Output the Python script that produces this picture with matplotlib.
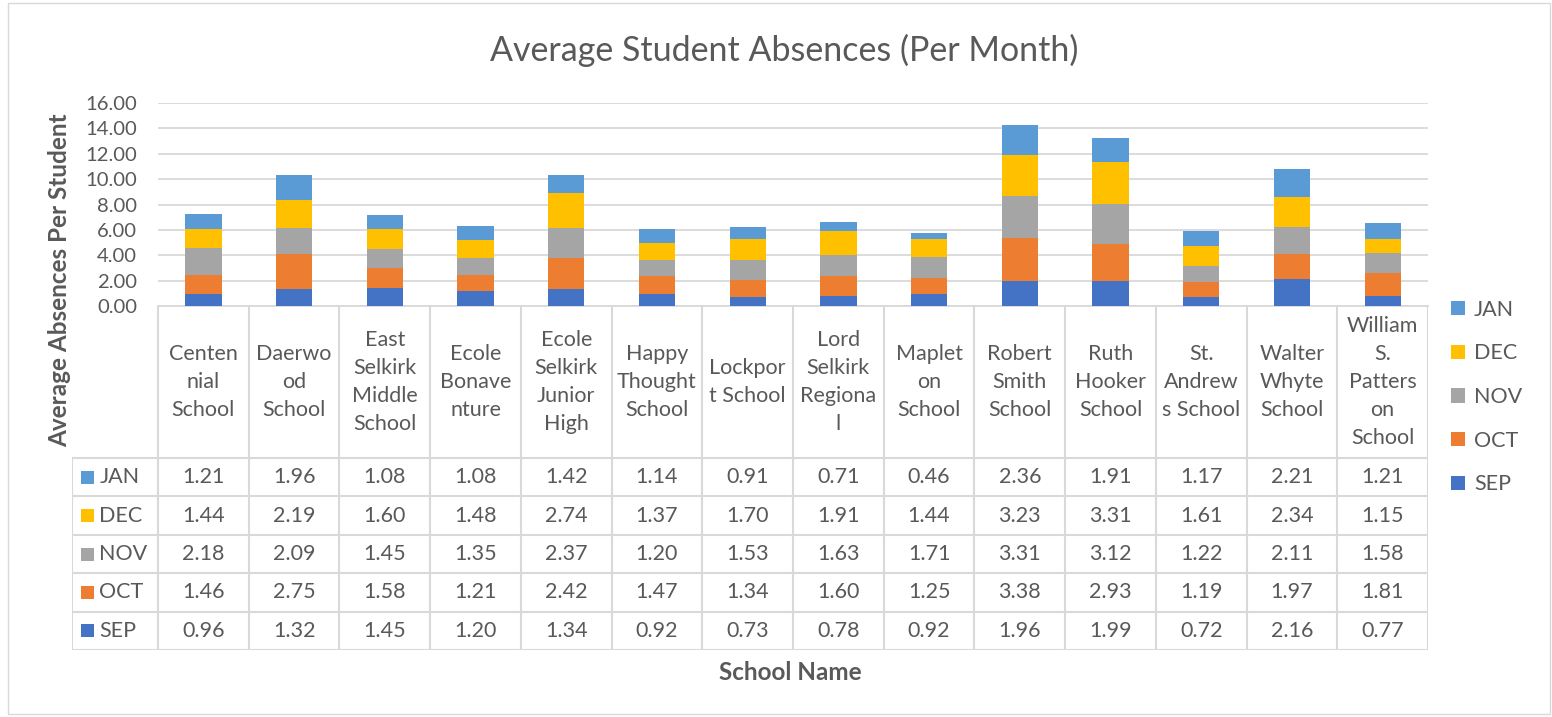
import matplotlib.pyplot as plt
import numpy as np

schools = ["Centen\nnial\nSchool", "Daerwo\nod\nSchool", "East\nSelkirk\nMiddle\nSchool",
           "Ecole\nBonave\nnture", "Ecole\nSelkirk\nJunior\nHigh", "Happy\nThought\nSchool",
           "Lockpor\nt School", "Lord\nSelkirk\nRegiona\nl", "Maplet\non\nSchool",
           "Robert\nSmith\nSchool", "Ruth\nHooker\nSchool", "St.\nAndrew\ns School",
           "Walter\nWhyte\nSchool", "William\nS.\nPatters\non\nSchool"]

sep = [0.96, 1.32, 1.45, 1.20, 1.34, 0.92, 0.73, 0.78, 0.92, 1.96, 1.99, 0.72, 2.16, 0.77]
oct_ = [1.46, 2.75, 1.58, 1.21, 2.42, 1.47, 1.34, 1.60, 1.25, 3.38, 2.93, 1.19, 1.97, 1.81]
nov = [2.18, 2.09, 1.45, 1.35, 2.37, 1.20, 1.53, 1.63, 1.71, 3.31, 3.12, 1.22, 2.11, 1.58]
dec = [1.44, 2.19, 1.60, 1.48, 2.74, 1.37, 1.70, 1.91, 1.44, 3.23, 3.31, 1.61, 2.34, 1.15]
jan = [1.21, 1.96, 1.08, 1.08, 1.42, 1.14, 0.91, 0.71, 0.46, 2.36, 1.91, 1.17, 2.21, 1.21]

months = ["SEP", "OCT", "NOV", "DEC", "JAN"]
series = [sep, oct_, nov, dec, jan]
colors = ["#4472C4", "#ED7D31", "#A5A5A5", "#FFC000", "#5B9BD5"]

W, H = 1552, 717
txt = "#595959"
gridc = "#d9d9d9"
fs = 15.5
plt.rcParams['font.family'] = ['Lato', 'DejaVu Sans']

fig = plt.figure(figsize=(W / 100, H / 100), dpi=100)
fig.patches.append(plt.Rectangle((8 / W, 3 / H), (W - 10) / W, (H - 6) / H, transform=fig.transFigure,
                                 fill=False, ec=gridc, lw=1))

# chart area in pixel terms
left, right = 158, 1428
y0, y16 = 306, 103
ax = fig.add_axes([left / W, (H - y0) / H, (right - left) / W, (y0 - y16) / H])

n = len(schools)
x = np.arange(n)
bottom = np.zeros(n)
for vals, c, m in zip(series, colors, months):
    ax.bar(x, vals, 0.4, bottom=bottom, color=c, label=m, zorder=3)
    bottom += np.array(vals)

ax.set_xlim(-0.5, n - 0.5)
ax.set_ylim(0, 16)
ax.set_yticks(np.arange(0, 17, 2))
ax.set_yticklabels([f"{v:.2f}" for v in np.arange(0, 17, 2)], fontsize=14.6, color=txt)
ax.set_xticks([])
ax.tick_params(axis='y', length=0, pad=15)
ax.grid(axis='y', color=gridc, lw=1.3, zorder=0)
for s in ["top", "right", "left"]:
    ax.spines[s].set_visible(False)
ax.spines["bottom"].set_color(gridc)
ax.spines["bottom"].set_linewidth(1.3)

# data table below
tleft = 72
row_h = 38.4
header_bot = 458
tbot = header_bot + row_h * len(months)
tab = fig.add_axes([tleft / W, (H - tbot) / H, (right - tleft) / W, (tbot - y0) / H])
key_w = (left - tleft) / ((right - left) / n)
tab.set_xlim(-0.5 - key_w, n - 0.5)
tab.set_ylim(tbot, y0)
tab.axis("off")

lc = dict(color=gridc, lw=1.5)
for i in range(n + 1):
    tab.plot([i - 0.5, i - 0.5], [y0, tbot], **lc)
tab.plot([-0.5 - key_w, -0.5 - key_w], [header_bot, tbot], **lc)
for r in range(len(months) + 1):
    yy = header_bot + r * row_h
    tab.plot([-0.5 - key_w, n - 0.5], [yy, yy], **lc)

for i, name in enumerate(schools):
    tab.text(i, (y0 + header_bot) / 2, name, ha="center", va="center", fontsize=fs,
             color=txt, linespacing=1.5)

for r, (vals, c, m) in enumerate(zip(series[::-1], colors[::-1], months[::-1])):
    yc = header_bot + (r + 0.5) * row_h
    kx = -0.5 - key_w + 0.1
    tab.add_patch(plt.Rectangle((kx, yc - 6.5), 0.14, 13, color=c, lw=0))
    tab.text(kx + 0.2, yc, m, ha="left", va="center", fontsize=fs, color=txt)
    for i, v in enumerate(vals):
        tab.text(i, yc, f"{v:.2f}", ha="center", va="center", fontsize=fs, color=txt)

# legend
handles, labels = ax.get_legend_handles_labels()
fig.legend(handles[::-1], labels[::-1], loc="center left", bbox_to_anchor=(1432 / W, (H - 397) / H),
           frameon=False, fontsize=fs, labelcolor=txt, handlelength=0.65, handleheight=0.65,
           handletextpad=0.4, labelspacing=1.1)

fig.text(784 / W, (H - 50) / H, "Average Student Absences (Per Month)",
         ha="center", va="center", fontsize=24.5, color=txt)
fig.text(60 / W, (H - 280) / H, "Average Absences Per Student", rotation=90, ha="center", va="center",
         fontsize=17.5, fontweight="bold", color=txt)
fig.text(790 / W, (H - 672) / H, "School Name", ha="center", va="center", fontsize=17.5,
         fontweight="bold", color=txt)

fig.savefig("out.png", dpi=100)
